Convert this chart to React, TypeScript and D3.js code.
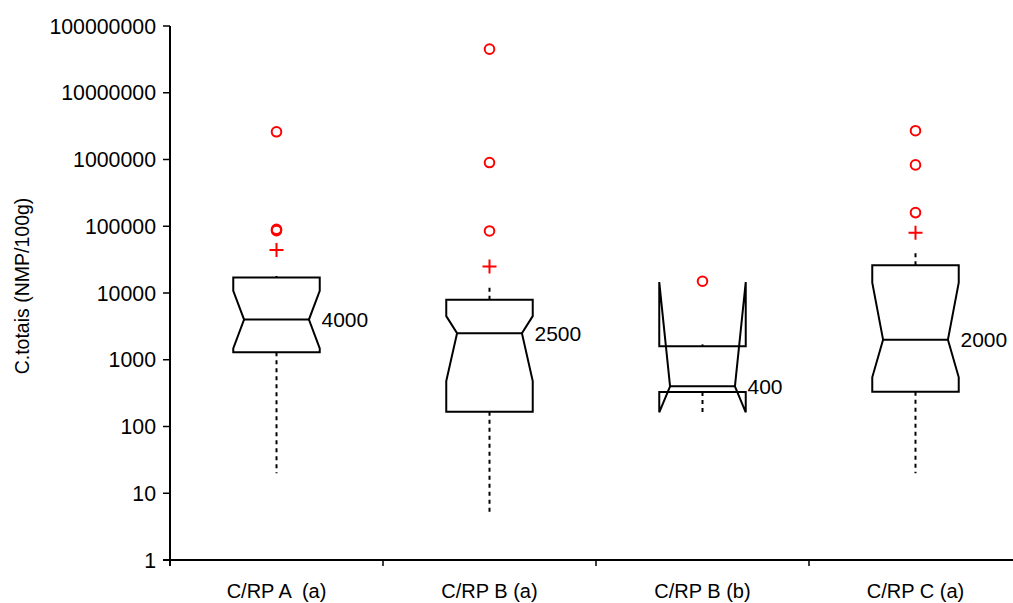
import { useEffect, useRef } from 'react';
import * as d3 from 'd3';

// box statistics (NMP/100g, log axis)
const categories = ['C/RP A  (a)', 'C/RP B (a)', 'C/RP B (b)', 'C/RP C (a)'];
const q1 = [1300, 166, 330, 332];
const medians = [4000, 2500, 400, 2000];
const q3 = [17000, 7900, 1600, 26000];
const notchLow = [1480, 480, 163, 546];
const notchHigh = [10800, 4500, 14600, 14300];
const whiskerLow = [20, 5, 160, 20];
const whiskerHigh = [18000, 13000, 1700, 44000];
const means = [44000, 25000, null, 80000];
const outliers = [
  [2600000, 90000, 86000],
  [45000000, 900000, 85000],
  [15000],
  [2700000, 830000, 160000],
];
const medianLabels = ['4000', '2500', '400', '2000'];
const yTicks = [1, 10, 100, 1000, 10000, 100000, 1000000, 10000000, 100000000];

const font = '"Liberation Sans", Arial, sans-serif';

const App = () => {
  const svgRef = useRef<SVGSVGElement>(null);

  useEffect(() => {
    const svg = d3.select(svgRef.current);
    svg.selectAll('*').remove();

    const y = d3.scaleLog().domain([1, 1e8]).range([560, 26]);
    const x = d3.scaleBand().domain(categories).range([170, 1022]).padding(0);
    const half = x.bandwidth() * 0.203;
    const inset = half * 0.25;

    // axes
    svg.append('line')
      .attr('x1', 170).attr('x2', 170)
      .attr('y1', y(1e8)).attr('y2', 566)
      .attr('stroke', '#000').attr('stroke-width', 2);
    svg.append('line')
      .attr('x1', 163).attr('x2', 1013)
      .attr('y1', y(1)).attr('y2', y(1))
      .attr('stroke', '#000').attr('stroke-width', 2);

    yTicks.forEach(t => {
      svg.append('line')
        .attr('x1', 163).attr('x2', 170)
        .attr('y1', y(t)).attr('y2', y(t))
        .attr('stroke', '#000').attr('stroke-width', 1.5);
      svg.append('text')
        .attr('x', 156).attr('y', y(t))
        .attr('dy', '0.36em')
        .attr('text-anchor', 'end')
        .attr('font-family', font)
        .attr('font-size', 21.3)
        .text(String(t));
    });

    categories.forEach((c, i) => {
      const x0 = x(c)!;
      if (i > 0) {
        svg.append('line')
          .attr('x1', x0).attr('x2', x0)
          .attr('y1', y(1)).attr('y2', 566)
          .attr('stroke', '#000').attr('stroke-width', 1.5);
      }
      svg.append('text')
        .attr('x', x0 + x.bandwidth() / 2).attr('y', 598)
        .attr('text-anchor', 'middle')
        .attr('font-family', font)
        .attr('font-size', 20)
        .style('white-space', 'pre')
        .text(c);
    });

    svg.append('text')
      .attr('transform', `translate(29, ${(y(1e8) + y(1)) / 2 - 7}) rotate(-90)`)
      .attr('text-anchor', 'middle')
      .attr('font-family', font)
      .attr('font-size', 19.5)
      .text('C.totais (NMP/100g)');

    // boxes
    categories.forEach((c, i) => {
      const cx = x(c)! + x.bandwidth() / 2;
      const L = cx - half;
      const R = cx + half;

      const dashed = (a: number, b: number) =>
        svg.append('line')
          .attr('x1', cx).attr('x2', cx)
          .attr('y1', y(a)).attr('y2', y(b))
          .attr('stroke', '#000').attr('stroke-width', 2)
          .attr('stroke-dasharray', '4,4');
      dashed(q1[i], whiskerLow[i]);
      dashed(q3[i], whiskerHigh[i]);

      const pts: [number, number][] = [
        [L, y(q1[i])],
        [L, y(notchLow[i])],
        [L + inset, y(medians[i])],
        [L, y(notchHigh[i])],
        [L, y(q3[i])],
        [R, y(q3[i])],
        [R, y(notchHigh[i])],
        [R - inset, y(medians[i])],
        [R, y(notchLow[i])],
        [R, y(q1[i])],
      ];
      svg.append('path')
        .attr('d', d3.line()(pts) + 'Z')
        .attr('fill', 'none')
        .attr('stroke', '#000')
        .attr('stroke-width', 2)
        .attr('stroke-linejoin', 'miter');

      svg.append('line')
        .attr('x1', L + inset).attr('x2', R - inset)
        .attr('y1', y(medians[i])).attr('y2', y(medians[i]))
        .attr('stroke', '#000').attr('stroke-width', 2);

      svg.append('text')
        .attr('x', cx + 45).attr('y', y(medians[i]))
        .attr('dy', '0.36em')
        .attr('font-family', font)
        .attr('font-size', 21)
        .text(medianLabels[i]);

      const m = means[i];
      if (m != null) {
        svg.append('path')
          .attr('d', `M${cx - 7},${y(m)}H${cx + 7}M${cx},${y(m) - 7}V${y(m) + 7}`)
          .attr('stroke', '#ff0000').attr('stroke-width', 2);
      }

      outliers[i].forEach(v => {
        svg.append('circle')
          .attr('cx', cx).attr('cy', y(v))
          .attr('r', 4.8)
          .attr('fill', 'none')
          .attr('stroke', '#ff0000')
          .attr('stroke-width', 2);
      });
    });
  }, []);

  return (
    <svg
      ref={svgRef}
      width="1013"
      height="603"
      viewBox="0 0 1013 603"
      style={{ position: 'absolute', left: 0, top: 0, background: '#fff' }}
    ></svg>
  );
};

export default App;
